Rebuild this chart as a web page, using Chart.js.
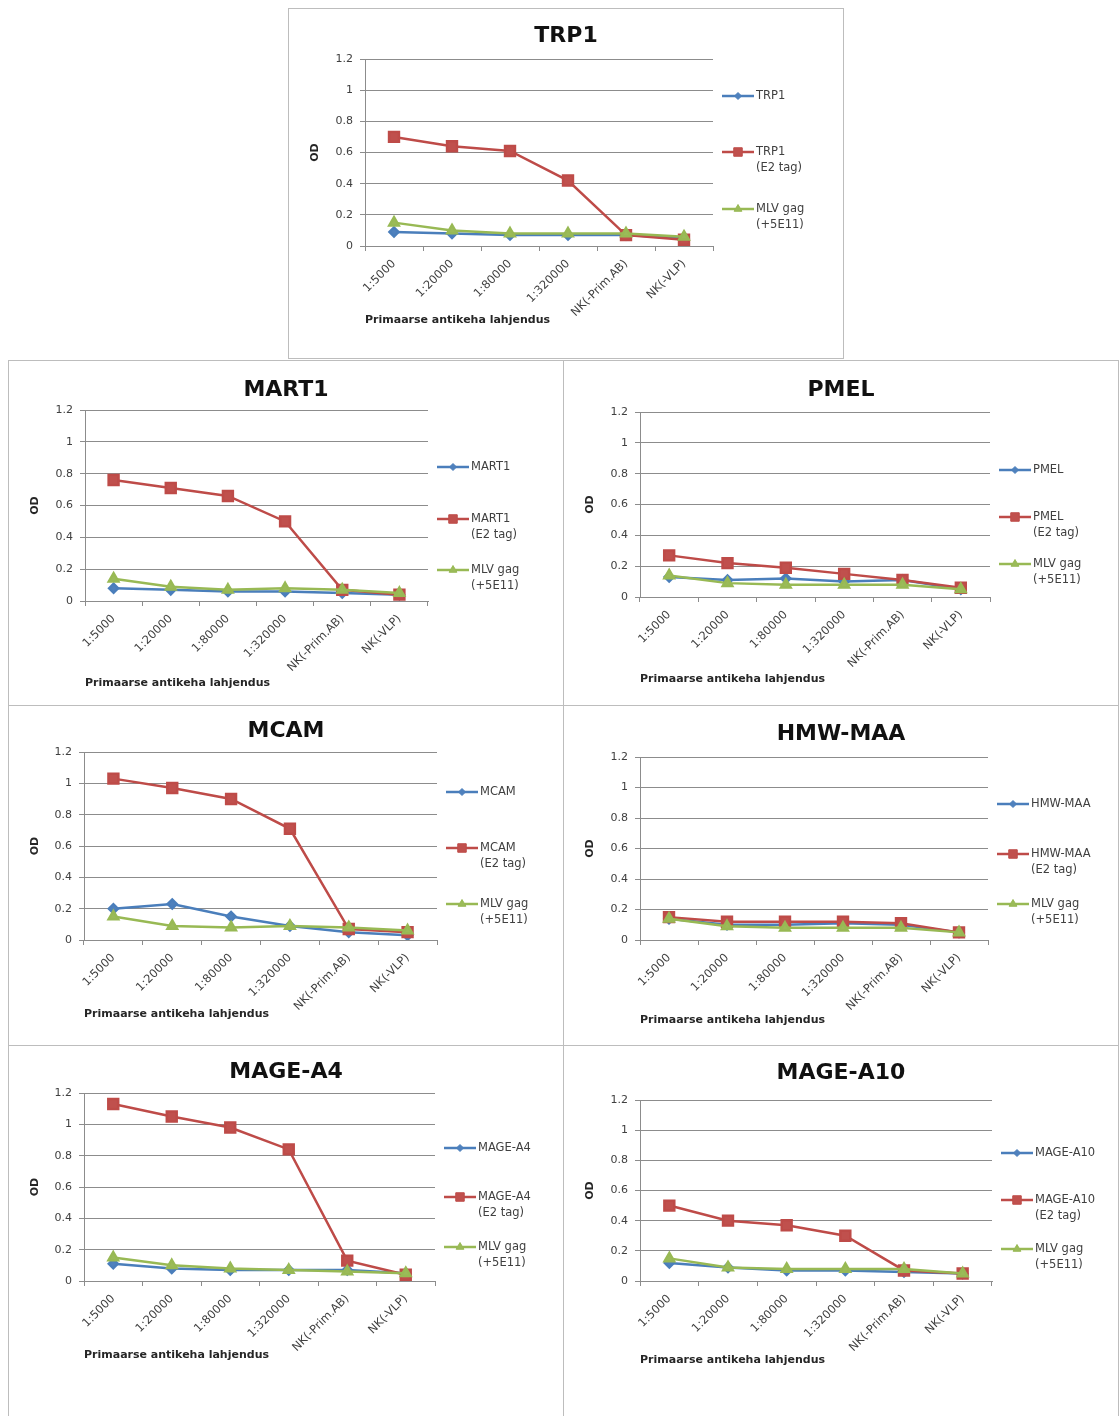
<!DOCTYPE html>
<html>
<head>
<meta charset="utf-8">
<script src="https://cdn.jsdelivr.net/npm/chart.js@4.4.1/dist/chart.umd.min.js"></script>
<style>
    body { margin: 0; background: #fff; width: 1119px; height: 1416px; position: relative; overflow: hidden; }
    .paneel { position: absolute; border: 1px solid #bdbdbd; box-sizing: border-box; background: #fff; }
    .paneel canvas { position: absolute; left: 0; top: 0; }
</style>
</head>
<body>
<script>
// X-telje kategooriad (lahjendused)
const lahjendused = ['1:5000', '1:20000', '1:80000', '1:320000', 'NK(-Prim.AB)', 'NK(-VLP)'];
const yTicks = { min: 0, max: 1.2, step: 0.2 };

// OD väärtused, loetud graafikutelt
const trp1    = [0.09, 0.08, 0.07, 0.07, 0.07, 0.05];
const trp1E2  = [0.70, 0.64, 0.61, 0.42, 0.07, 0.04];
const trp1Gag = [0.15, 0.10, 0.08, 0.08, 0.08, 0.06];

const mart1    = [0.08, 0.07, 0.06, 0.06, 0.05, 0.04];
const mart1E2  = [0.76, 0.71, 0.66, 0.50, 0.07, 0.04];
const mart1Gag = [0.14, 0.09, 0.07, 0.08, 0.07, 0.05];

const pmel    = [0.13, 0.11, 0.12, 0.10, 0.11, 0.05];
const pmelE2  = [0.27, 0.22, 0.19, 0.15, 0.11, 0.06];
const pmelGag = [0.14, 0.09, 0.08, 0.08, 0.08, 0.05];

const mcam    = [0.20, 0.23, 0.15, 0.09, 0.05, 0.03];
const mcamE2  = [1.03, 0.97, 0.90, 0.71, 0.07, 0.05];
const mcamGag = [0.15, 0.09, 0.08, 0.09, 0.08, 0.06];

const hmw    = [0.14, 0.10, 0.10, 0.11, 0.10, 0.05];
const hmwE2  = [0.15, 0.12, 0.12, 0.12, 0.11, 0.05];
const hmwGag = [0.14, 0.09, 0.08, 0.08, 0.08, 0.05];

const mageA4    = [0.11, 0.08, 0.07, 0.07, 0.07, 0.05];
const mageA4E2  = [1.13, 1.05, 0.98, 0.84, 0.13, 0.04];
const mageA4Gag = [0.15, 0.10, 0.08, 0.07, 0.06, 0.05];

const mageA10    = [0.12, 0.09, 0.07, 0.07, 0.06, 0.05];
const mageA10E2  = [0.50, 0.40, 0.37, 0.30, 0.07, 0.05];
const mageA10Gag = [0.15, 0.09, 0.08, 0.08, 0.08, 0.05];

// Paneelide paigutus: kast lehel, joonisala servad kasti sees, pealkirja ja legendi read
const paneelid = [
    { nimi: 'TRP1', andmed: [trp1, trp1E2, trp1Gag], kast: [288, 8, 556, 351],
      ala: [76, 50, 424, 237], tiitelY: 27, xTiitelY: 311, legendY: [87, 143, 200] },
    { nimi: 'MART1', andmed: [mart1, mart1E2, mart1Gag], kast: [8, 360, 556, 346],
      ala: [76, 49, 419, 240], tiitelY: 29, xTiitelY: 322, legendY: [106, 158, 209] },
    { nimi: 'PMEL', andmed: [pmel, pmelE2, pmelGag], kast: [563, 360, 556, 346],
      ala: [76, 51, 426, 236], tiitelY: 29, xTiitelY: 318, legendY: [109, 156, 203] },
    { nimi: 'MCAM', andmed: [mcam, mcamE2, mcamGag], kast: [8, 705, 556, 341],
      ala: [75, 46, 428, 234], tiitelY: 25, xTiitelY: 308, legendY: [86, 142, 198] },
    { nimi: 'HMW-MAA', andmed: [hmw, hmwE2, hmwGag], kast: [563, 705, 556, 341],
      ala: [76, 51, 424, 234], tiitelY: 28, xTiitelY: 314, legendY: [98, 148, 198] },
    { nimi: 'MAGE-A4', andmed: [mageA4, mageA4E2, mageA4Gag], kast: [8, 1045, 556, 372],
      ala: [75, 47, 426, 235], tiitelY: 26, xTiitelY: 309, legendY: [102, 151, 201] },
    { nimi: 'MAGE-A10', andmed: [mageA10, mageA10E2, mageA10Gag], kast: [563, 1045, 556, 372],
      ala: [76, 54, 428, 235], tiitelY: 27, xTiitelY: 314, legendY: [107, 154, 203] }
];

const FONT = '"DejaVu Sans", Verdana, sans-serif';
const TEKST = '#404040';

// Pealkiri kogu paneeli keskele ja legend paremale (mitmerealiste siltidega nagu Excelis)
const paneeliTekstid = {
    id: 'paneeliTekstid',
    afterDraw(chart, args, opts) {
        const ctx = chart.ctx;
        ctx.save();
        ctx.fillStyle = '#111';
        ctx.font = 'bold 22px ' + FONT;
        ctx.textAlign = 'center';
        ctx.textBaseline = 'middle';
        ctx.fillText(opts.pealkiri, chart.width / 2, opts.tiitelY);
        ctx.restore();

        const x0 = chart.chartArea.right + 9;
        chart.data.datasets.forEach((ds, i) => {
            const y = opts.read[i];
            ctx.save();
            ctx.strokeStyle = ds.borderColor;
            ctx.lineWidth = ds.borderWidth;
            ctx.beginPath();
            ctx.moveTo(x0, y);
            ctx.lineTo(x0 + 32, y);
            ctx.stroke();
            ctx.fillStyle = ds.pointBackgroundColor;
            ctx.strokeStyle = ds.pointBorderColor;
            ctx.lineWidth = 1;
            Chart.helpers.drawPoint(ctx, { pointStyle: ds.pointStyle, radius: ds.pointRadius - 1, borderWidth: 1 }, x0 + 16, y);
            ctx.fillStyle = TEKST;
            ctx.font = '11.5px ' + FONT;
            ctx.textBaseline = 'middle';
            ds.label.split('\n').forEach((rida, k) => ctx.fillText(rida, x0 + 34, y + k * 16));
            ctx.restore();
        });
    }
};

function joonistaPaneel(p) {
    const [kx, ky, kw, kh] = p.kast;
    const div = document.createElement('div');
    div.className = 'paneel';
    div.style.left = kx + 'px';
    div.style.top = ky + 'px';
    div.style.width = kw + 'px';
    div.style.height = kh + 'px';
    const canvas = document.createElement('canvas');
    const cw = kw - 2, ch = kh - 2;
    canvas.width = cw;
    canvas.height = ch;
    canvas.style.width = cw + 'px';
    canvas.style.height = ch + 'px';
    div.appendChild(canvas);
    document.body.appendChild(div);

    const [l, t, r, b] = p.ala;
    const xTiitelLh = 11 * 1.2;

    new Chart(canvas.getContext('2d'), {
        type: 'line',
        data: {
            labels: lahjendused,
            datasets: [
                {
                    label: p.nimi,
                    data: p.andmed[0],
                    borderColor: '#4a7ebb', borderWidth: 2.5,
                    pointStyle: 'rectRot', pointRadius: 4.5,
                    pointBackgroundColor: '#4f81bd', pointBorderColor: '#4a7ebb',
                    order: 2
                },
                {
                    label: p.nimi + '\n(E2 tag)',
                    data: p.andmed[1],
                    borderColor: '#be4b48', borderWidth: 2.5,
                    pointStyle: 'rect', pointRadius: 7,
                    pointBackgroundColor: '#c0504d', pointBorderColor: '#be4b48',
                    order: 1
                },
                {
                    label: 'MLV gag\n(+5E11)',
                    data: p.andmed[2],
                    borderColor: '#98b954', borderWidth: 2.5,
                    pointStyle: 'triangle', pointRadius: 5.5,
                    pointBackgroundColor: '#9bbb59', pointBorderColor: '#98b954',
                    order: 0
                }
            ]
        },
        options: {
            responsive: false,
            animation: false,
            devicePixelRatio: 1,
            layout: { padding: { left: 0, top: t, right: cw - r, bottom: 0 } },
            elements: { line: { tension: 0 } },
            plugins: {
                legend: { display: false },
                tooltip: { enabled: false },
                title: { display: false },
                paneeliTekstid: { pealkiri: p.nimi, tiitelY: p.tiitelY, read: p.legendY }
            },
            scales: {
                x: {
                    offset: true,
                    afterFit: s => { s.height = ch - b; },
                    grid: { display: true, offset: true, drawOnChartArea: false, drawTicks: true, tickLength: 5, color: '#8c8c8c' },
                    border: { display: true, color: '#8c8c8c', width: 1 },
                    ticks: {
                        autoSkip: false, maxRotation: 45, minRotation: 45, padding: 6,
                        color: TEKST, font: { family: FONT, size: 11.5 }
                    },
                    title: {
                        display: true, align: 'start',
                        text: 'Primaarse antikeha lahjendus',
                        color: '#262626',
                        font: { family: FONT, size: 11, weight: 'bold', lineHeight: 1.2 },
                        padding: { top: 0, bottom: ch - p.xTiitelY - xTiitelLh / 2 }
                    }
                },
                y: {
                    min: yTicks.min, max: yTicks.max,
                    afterFit: s => { s.width = l; },
                    grid: { color: '#8c8c8c', lineWidth: 1, tickLength: 5 },
                    border: { display: true, color: '#8c8c8c', width: 1 },
                    ticks: {
                        stepSize: yTicks.step, padding: 7,
                        color: TEKST, font: { family: FONT, size: 11 },
                        callback: v => String(Number(v.toFixed(1)))
                    },
                    title: {
                        display: true, text: 'OD',
                        color: '#262626',
                        font: { family: FONT, size: 11, weight: 'bold', lineHeight: 1.2 },
                        padding: { top: 20, bottom: 0 }
                    }
                }
            }
        },
        plugins: [paneeliTekstid]
    });
}

paneelid.forEach(joonistaPaneel);
</script>
</body>
</html>
